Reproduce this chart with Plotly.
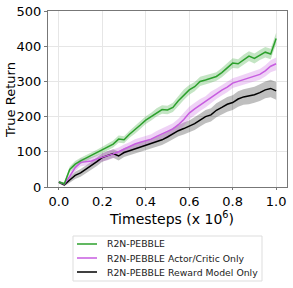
import plotly.graph_objects as go

timesteps = [0.0, 0.025, 0.05, 0.075, 0.1, 0.125, 0.15, 0.175, 0.2, 0.225,
             0.25, 0.275, 0.3, 0.325, 0.35, 0.375, 0.4, 0.425, 0.45, 0.475,
             0.5, 0.525, 0.55, 0.575, 0.6, 0.625, 0.65, 0.675, 0.7, 0.725,
             0.75, 0.775, 0.8, 0.825, 0.85, 0.875, 0.9, 0.925, 0.95, 0.975, 1.0]

green_mean = [14, 9, 50, 65, 74, 82, 90, 97, 105, 113,
              122, 136, 134, 150, 162, 176, 190, 200, 212, 220,
              219, 226, 245, 262, 276, 285, 300, 304, 308, 314,
              325, 338, 352, 350, 362, 372, 365, 375, 383, 378, 422]
green_err = [4, 4, 8, 9, 9, 8, 8, 9, 9, 9,
             10, 10, 10, 10, 11, 11, 11, 11, 12, 12,
             12, 13, 14, 15, 14, 13, 13, 13, 12, 12,
             13, 13, 14, 13, 14, 14, 14, 14, 15, 15, 16]

purple_mean = [14, 8, 30, 55, 70, 72, 74, 80, 84, 88,
               94, 100, 108, 114, 122, 127, 131, 136, 144, 152,
               158, 165, 177, 192, 210, 222, 233, 242, 255, 265,
               275, 284, 295, 300, 305, 309, 315, 320, 330, 343, 350]
purple_err = [4, 4, 8, 10, 11, 11, 11, 11, 12, 12,
              12, 12, 13, 13, 14, 14, 14, 14, 15, 15,
              15, 16, 17, 18, 18, 17, 17, 16, 16, 15,
              15, 15, 14, 14, 14, 14, 15, 15, 16, 17, 18]

black_mean = [14, 6, 20, 33, 40, 50, 60, 72, 84, 90,
              95, 88, 98, 103, 108, 112, 118, 122, 128, 134,
              142, 152, 160, 166, 172, 180, 190, 200, 205, 218,
              226, 235, 240, 250, 256, 258, 262, 268, 276, 280, 273]
black_err = [4, 4, 8, 10, 11, 11, 12, 12, 12, 12,
             12, 13, 13, 13, 13, 14, 14, 14, 15, 15,
             15, 16, 16, 17, 17, 18, 18, 19, 19, 20,
             20, 21, 21, 22, 22, 23, 23, 24, 24, 25, 25]

series_names = ["R2N-PEBBLE", "R2N-PEBBLE Actor/Critic Only", "R2N-PEBBLE Reward Model Only"]
x_ticks = [0.0, 0.2, 0.4, 0.6, 0.8, 1.0]
x_tick_labels = ["0.0", "0.2", "0.4", "0.6", "0.8", "1.0"]
y_ticks = [0, 100, 200, 300, 400, 500]
x_title = "Timesteps (x 10<sup>6</sup>)"
y_title = "True Return"

line_colors = ["#2ca02c", "#c75ce0", "#000000"]
fill_colors = ["rgba(44,160,44,0.28)", "rgba(199,92,224,0.28)", "rgba(0,0,0,0.25)"]
means = [green_mean, purple_mean, black_mean]
errs = [green_err, purple_err, black_err]

fig = go.Figure()

# bands (drawn first, back to front)
for i in reversed(range(3)):
    upper = [m + e for m, e in zip(means[i], errs[i])]
    lower = [m - e for m, e in zip(means[i], errs[i])]
    fig.add_trace(go.Scatter(x=timesteps, y=upper, mode="lines", line=dict(width=0),
                             showlegend=False, hoverinfo="skip"))
    fig.add_trace(go.Scatter(x=timesteps, y=lower, mode="lines", line=dict(width=0),
                             fill="tonexty", fillcolor=fill_colors[i], showlegend=False,
                             hoverinfo="skip"))

for i in reversed(range(3)):
    fig.add_trace(go.Scatter(x=timesteps, y=means[i], mode="lines", name=series_names[i],
                             line=dict(color=line_colors[i], width=1.5), showlegend=False))

# plot area on the page: x 48..287, y 11..187  (239 x 176)
PW, PH = 239.0, 176.0
def px(xp):
    return (xp - 48) / PW
def py(yp):
    return (187 - yp) / PH

# legend box drawn below the axes (matplotlib style)
row_y = [244, 258, 272]
fig.add_shape(type="rect", xref="paper", yref="paper", x0=px(73), x1=px(262),
              y0=py(236), y1=py(281), line=dict(color="#dddddd", width=1),
              fillcolor="white")
for i in range(3):
    fig.add_shape(type="line", xref="paper", yref="paper", x0=px(77), x1=px(97),
                  y0=py(row_y[i]), y1=py(row_y[i]), line=dict(color=line_colors[i], width=1.5))
    fig.add_annotation(xref="paper", yref="paper", x=px(104.5), y=py(row_y[i]),
                       text=series_names[i], showarrow=False, xanchor="left",
                       yanchor="middle", font=dict(size=9.3, color="#222222"))

# axis titles
fig.add_annotation(xref="paper", yref="paper", x=px(171), y=py(217.5), text=x_title,
                   showarrow=False, xanchor="center", yanchor="middle",
                   font=dict(size=14, color="black"))
fig.add_annotation(xref="paper", yref="paper", x=px(11), y=py(100), text=y_title,
                   showarrow=False, xanchor="center", yanchor="middle", textangle=-90,
                   font=dict(size=13, color="black"))

fig.update_layout(
    width=293, height=288,
    margin=dict(l=48, r=6, t=11, b=101),
    paper_bgcolor="white", plot_bgcolor="white",
    font=dict(family="DejaVu Sans", size=13, color="black"),
    showlegend=False,
)
fig.update_xaxes(range=[-0.05, 1.05], tickvals=x_ticks, ticktext=x_tick_labels,
                 showgrid=True, gridcolor="#e6e6e6", zeroline=False,
                 showline=True, linecolor="#777777", mirror=True,
                 ticks="outside", ticklen=2, tickcolor="#777777", automargin=False,
                 ticklabeloverflow="allow")
fig.update_yaxes(range=[0, 500], tickvals=y_ticks,
                 showgrid=True, gridcolor="#e6e6e6", zeroline=False,
                 showline=True, linecolor="#777777", mirror=True,
                 ticks="outside", ticklen=3, tickcolor="#777777", automargin=False,
                 ticklabeloverflow="allow")

fig.write_html("out.html", config={"displayModeBar": False},
               post_script="document.body.style.margin='0';")
